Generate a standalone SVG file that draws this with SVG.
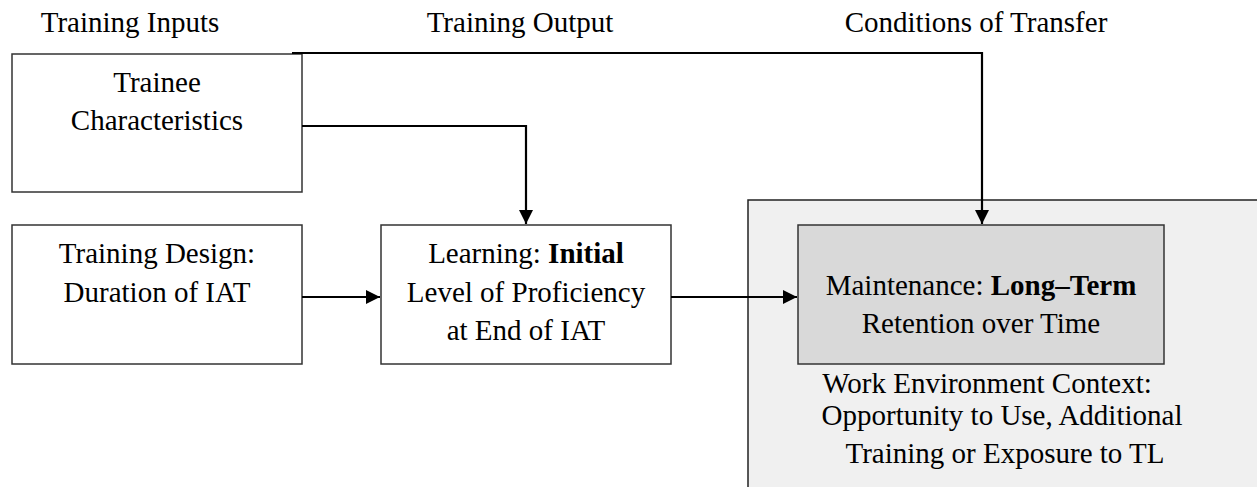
<svg xmlns="http://www.w3.org/2000/svg" width="1257" height="487" viewBox="0 0 1257 487">
  <style>
    text { font-family: "Liberation Serif", "Times New Roman", serif; font-size: 29px; fill: #000; text-anchor: middle; }
    .b { font-weight: bold; }
    .box { fill: #fff; stroke: #333; stroke-width: 1.5; }
    .conn { fill: none; stroke: #000; stroke-width: 2.2; }
  </style>
  <defs>
    <marker id="arr" markerUnits="userSpaceOnUse" markerWidth="16" markerHeight="16" refX="14" refY="7" orient="auto">
      <path d="M0,0 L14,7 L0,14 Z" fill="#000"/>
    </marker>
  </defs>
  <rect width="1257" height="487" fill="#fff"/>

  <g id="headers">
    <text x="130" y="32">Training Inputs</text>
    <text x="520" y="32">Training Output</text>
    <text x="976" y="32">Conditions of Transfer</text>
  </g>

  <g id="transfer-context">
    <rect x="748" y="200" width="520" height="300" fill="#f0f0f0" stroke="#222" stroke-width="1.5"/>
    <text x="987" y="393">Work Environment Context:</text>
    <text x="1002" y="425">Opportunity to Use, Additional</text>
    <text x="1005" y="463">Training or Exposure to TL</text>
  </g>

  <g id="trainee">
    <rect class="box" x="12" y="54" width="290" height="138"/>
    <text x="157" y="92">Trainee</text>
    <text x="157" y="130">Characteristics</text>
  </g>

  <g id="design">
    <rect class="box" x="12" y="225" width="290" height="139"/>
    <text x="157" y="263">Training Design:</text>
    <text x="157" y="302">Duration of IAT</text>
  </g>

  <g id="learning">
    <rect class="box" x="381" y="225" width="290" height="139"/>
    <text x="526" y="263">Learning: <tspan class="b">Initial</tspan></text>
    <text x="526" y="302">Level of Proficiency</text>
    <text x="526" y="340">at End of IAT</text>
  </g>

  <g id="maintenance">
    <rect x="798" y="225" width="366" height="139" fill="#d9d9d9" stroke="#333" stroke-width="1.5"/>
    <text x="981" y="295">Maintenance: <tspan class="b">Long–Term</tspan></text>
    <text x="981" y="333">Retention over Time</text>
  </g>

  <g id="connectors">
    <polyline class="conn" points="292,53 982,53 982,224" marker-end="url(#arr)"/>
    <polyline class="conn" points="302,126 526,126 526,224" marker-end="url(#arr)"/>
    <line class="conn" x1="302" y1="297" x2="380" y2="297" marker-end="url(#arr)"/>
    <line class="conn" x1="671" y1="297" x2="797" y2="297" marker-end="url(#arr)"/>
  </g>
</svg>
